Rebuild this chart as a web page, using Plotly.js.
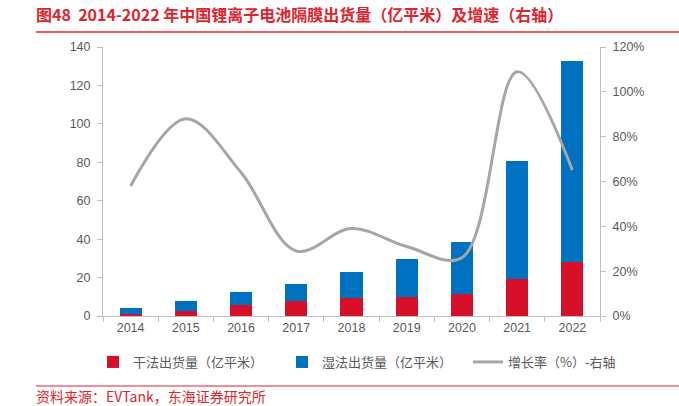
<!DOCTYPE html>
<html>
<head>
<meta charset="utf-8">
<script src="https://cdn.plot.ly/plotly-3.0.1.min.js"></script>
<style>html,body{margin:0;padding:0;background:#fff;}#chart{width:679px;height:406px;}</style>
</head>
<body>
<div id="chart"></div>
<script>
const years = ['2014','2015','2016','2017','2018','2019','2020','2021','2022'];
const dryShipment = [1.2, 2.6, 5.6, 8.0, 9.5, 9.9, 11.6, 19.1, 28.3];
const wetShipment = [3.0, 5.2, 7.0, 8.7, 13.4, 19.9, 26.9, 61.6, 104.4];
const growthRate = [58, 88, 64, 29, 39, 31, 26, 109, 65];
const leftTicks = [0, 20, 40, 60, 80, 100, 120, 140];
const rightTicks = [0, 20, 40, 60, 80, 100, 120];
const rightTickText = rightTicks.map(v => v + '%');

const FONT = '"Liberation Sans", Arial, "Noto Sans CJK SC", sans-serif';
const CJK = '"Noto Sans CJK SC", "Liberation Sans", sans-serif';
const RED = '#D7102A', BLUE = '#0070C0', GRAY = '#A6A6A6', TXT = '#595959', AX = '#BFBFBF', TITLE = '#E0232D';

const traces = [
  {type:'bar', name:'干法出货量（亿平米）', x:years, y:dryShipment, marker:{color:RED}, width:0.4, legend:'legend'},
  {type:'bar', name:'湿法出货量（亿平米）', x:years, y:wetShipment, marker:{color:BLUE}, width:0.4, legend:'legend2'},
  {type:'scatter', mode:'lines', name:'增长率（%）-右轴', x:years, y:growthRate, yaxis:'y2', legend:'legend3',
   line:{color:GRAY, width:3, shape:'spline', smoothing:1}}
];

const L = 103, W = 497, B = 316, H = 269;
const px = x => (x - L) / W;
const py = y => (B - y) / H;
const legendBase = {xref:'container', yref:'container', xanchor:'left', y:1-362/406, yanchor:'middle',
  bgcolor:'rgba(0,0,0,0)', font:{family:CJK, size:13, color:TXT}, itemwidth:30, orientation:'h'};

const layout = {
  width:679, height:406,
  margin:{l:103, r:79, t:47, b:90},
  paper_bgcolor:'#fff', plot_bgcolor:'#fff',
  barmode:'stack',
  showlegend:true,
  font:{family:FONT, color:TXT, size:12},
  title:{text:'<b>图48  2014-2022 年中国锂离子电池隔膜出货量（亿平米）及增速（右轴）</b>',
         font:{family:CJK, size:16, color:TITLE},
         xref:'container', yref:'container', x:36/679, xanchor:'left', y:1-15/406, yanchor:'middle'},
  xaxis:{type:'category', showline:true, linecolor:AX, linewidth:1, ticks:'outside', tickson:'boundaries',
         ticklen:5, tickcolor:AX, showgrid:false, tickfont:{size:12.5, color:TXT}, fixedrange:true},
  yaxis:{range:[0,140], tickvals:leftTicks, showline:true, linecolor:AX, ticks:'outside', ticklen:5,
         tickcolor:AX, showgrid:false, zeroline:false, tickfont:{size:12.5, color:TXT}, ticklabelstandoff:4},
  yaxis2:{range:[0,120], tickvals:rightTicks, ticktext:rightTickText, tickmode:'array', overlaying:'y', side:'right', showline:true,
          linecolor:AX, ticks:'outside', ticklen:5, tickcolor:AX, showgrid:false, zeroline:false,
          tickfont:{size:12.5, color:TXT}, ticklabelstandoff:4},
  legend:Object.assign({}, legendBase, {x:93/679}),
  legend2:Object.assign({}, legendBase, {x:282/679}),
  legend3:Object.assign({}, legendBase, {x:468/679}),
  shapes:[
    {type:'line', xref:'paper', yref:'paper', x0:px(36), x1:px(679), y0:py(32), y1:py(32),
     line:{color:TITLE, width:1.5}},
    {type:'line', xref:'paper', yref:'paper', x0:px(36), x1:px(679), y0:py(386), y1:py(386),
     line:{color:TITLE, width:1.2}}
  ],
  annotations:[
    {text:'资料来源：EVTank，东海证券研究所', xref:'paper', yref:'paper', x:px(34), xanchor:'left',
     y:py(396), yanchor:'middle', showarrow:false, font:{family:CJK, size:14, color:TITLE}}
  ]
};

Plotly.newPlot('chart', traces, layout, {displayModeBar:false, staticPlot:true});
</script>
</body>
</html>
